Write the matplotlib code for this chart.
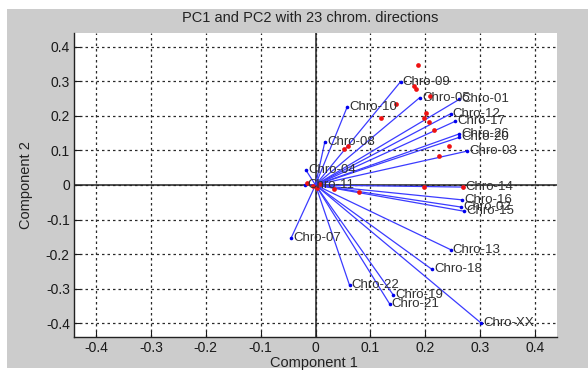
import matplotlib
matplotlib.use("Agg")
import matplotlib.pyplot as plt
from matplotlib.patches import Rectangle

# loadings of each chromosome on the first two components
chrom_labels = ["Chro-01", "Chro-02", "Chro-03", "Chro-04", "Chro-05", "Chro-07",
                "Chro-08", "Chro-09", "Chro-10", "Chro-11", "Chro-12", "Chro-13",
                "Chro-14", "Chro-15", "Chro-16", "Chro-17", "Chro-18", "Chro-19",
                "Chro-20", "Chro-21", "Chro-22", "Chro-26", "Chro-XX"]
pc1_coef = [0.262, 0.266, 0.276, -0.017, 0.190, -0.044, 0.017, 0.155, 0.058, -0.019,
            0.246, 0.246, 0.269, 0.271, 0.267, 0.254, 0.212, 0.142, 0.262, 0.135,
            0.062, 0.262, 0.302]
pc2_coef = [0.248, -0.064, 0.098, 0.042, 0.253, -0.152, 0.125, 0.299, 0.227, 0.001,
            0.206, -0.187, -0.006, -0.076, -0.043, 0.184, -0.244, -0.319, 0.138,
            -0.344, -0.290, 0.148, -0.400]

# scaled observation scores
score_x = [0.186, 0.180, 0.184, 0.208, 0.146, 0.119, 0.201, 0.198, 0.207, 0.216, 0.243,
           0.225, 0.060, 0.052, -0.015, 0.197, 0.269, 0.079, 0.034, 0.002, 0.008, -0.005]
score_y = [0.348, 0.287, 0.277, 0.258, 0.234, 0.194, 0.207, 0.194, 0.183, 0.159, 0.114,
           0.084, 0.113, 0.104, 0.005, -0.007, -0.005, -0.019, -0.013, -0.009, 0.003, -0.003]

ticks = [-0.4, -0.3, -0.2, -0.1, 0, 0.1, 0.2, 0.3, 0.4]
tick_text = ["-0.4", "-0.3", "-0.2", "-0.1", "0", "0.1", "0.2", "0.3", "0.4"]

plt.rcParams["font.family"] = ["Liberation Sans", "DejaVu Sans"]

W, H = 588, 370
fig = plt.figure(figsize=(W / 100, H / 100), dpi=100, facecolor="white")
# grey figure panel, leaving a thin white margin top and left
fig.patches.append(Rectangle((7 / W, 2 / H), 1 - 7 / W, 1 - 11 / H, transform=fig.transFigure,
                             facecolor="#cccccc", edgecolor="none", zorder=-10))

ax = fig.add_axes([74 / W, 33 / H, (557 - 74) / W, (337 - 33) / H])
ax.set_facecolor("white")

ax.set_xlim(-0.44, 0.44)
ax.set_ylim(-0.44, 0.44)

# dotted grid plus solid zero lines
for t in ticks:
    ax.axvline(t, color="#2a2a2a", lw=0.9, ls=(0, (2, 2.4)), zorder=1)
    ax.axhline(t, color="#2a2a2a", lw=0.9, ls=(0, (2, 2.4)), zorder=1)
ax.axhline(0, color="#222222", lw=1.1, zorder=2)
ax.axvline(0, color="#222222", lw=1.1, zorder=2)

# component directions
for lab, x, y in zip(chrom_labels, pc1_coef, pc2_coef):
    ax.plot([0, x], [0, y], color="#3b3bff", lw=0.9, zorder=3)
    ax.plot(x, y, "o", color="#0000ee", ms=2.6, mec="none", zorder=4)
    ax.text(x + 0.004, y, lab, fontsize=9.5, color="#303030", ha="left", va="center", zorder=6)

ax.plot(score_x, score_y, "o", color="#ee1111", ms=3.4, mec="none", zorder=5)

ax.set_xticks(ticks)
ax.set_yticks(ticks)
ax.set_xticklabels(tick_text)
ax.set_yticklabels(tick_text)
ax.tick_params(direction="in", length=4, width=0.8, labelsize=10, colors="#1a1a1a", pad=3)
ax.grid(False)
for side in ["top", "right"]:
    ax.spines[side].set_visible(False)
for side in ["left", "bottom"]:
    ax.spines[side].set_color("#222222")
    ax.spines[side].set_linewidth(1.0)

fig.text(310.5 / W, 1 - 18 / H, "PC1 and PC2 with 23 chrom. directions", ha="center",
         va="center", fontsize=10.5, color="#222222")
fig.text(314 / W, 1 - 363 / H, "Component 1", ha="center", va="center", fontsize=10.5,
         color="#222222")
fig.text(26 / W, 1 - 185 / H, "Component 2", ha="center", va="center", rotation=90,
         fontsize=10.5, color="#222222")

fig.savefig("out.png", dpi=100, facecolor=fig.get_facecolor())
